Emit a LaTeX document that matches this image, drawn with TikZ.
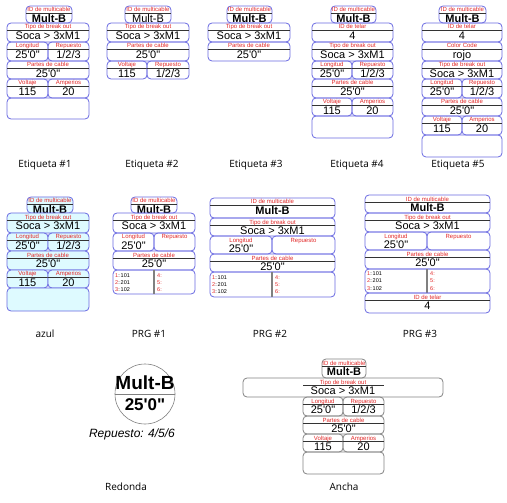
\documentclass[tikz,border=0pt]{standalone}
\usepackage{fontspec}
\setmainfont{Liberation Sans}
\newfontfamily\capfont{Open Sans}
\usepackage{tikz}

\definecolor{rowblue}{RGB}{105,105,225}
\definecolor{labred}{RGB}{225,40,40}
\definecolor{azulfill}{RGB}{222,250,255}
\definecolor{anchagray}{RGB}{130,130,130}

\tikzset{
  rowbox/.style={draw=rowblue, line width=0.8pt, rounded corners=4pt},
  labline/.style={draw=black!80, line width=0.6pt},
  lab/.style={text=labred, inner sep=0pt, anchor=base, font=\fontsize{6}{6}\selectfont},
  val/.style={inner sep=0pt, anchor=base, font=\fontsize{11}{11}\selectfont},
  captext/.style={inner sep=0pt, font=\capfont\fontsize{10}{10}\selectfont},
  lst/.style={inner sep=0pt, anchor=base west, font=\fontsize{5.5}{5.5}\selectfont},
  divline/.style={draw=gray, line width=1.5pt}
}

\newcommand{\lenval}{25\textquotesingle0\textquotedbl}

% one labelled cell: name, x1, y1, x2, y2, label, value
\newcommand{\cellrow}[7]{%
  \draw[rowbox] (#2,#3) rectangle (#4,#5);
  \draw[labline] (#2,{#3+7}) -- (#4,{#3+7});
  \node[lab] (#1-lab) at ({(#2+#4)/2},{#3+6}) {#6};
  \node[val] (#1-val) at ({(#2+#4)/2},{#3+16.5}) {#7};
}

\begin{document}
\begin{tikzpicture}[x=1pt, y=-1pt]

    \useasboundingbox (0,0) rectangle (507,503);

    % Etiqueta #1
    \cellrow{e1id}{26}{6}{72}{23}{ID de multicable}{\bfseries Mult-B}
    \cellrow{e1tipo}{7}{23}{89}{42}{Tipo de break out}{Soca > 3xM1}
    \cellrow{e1long}{7}{42}{48}{61}{Longitud}{\lenval}
    \cellrow{e1rep}{48}{42}{89}{61}{Repuesto}{1/2/3}
    \cellrow{e1partes}{7}{61}{89}{79}{Partes de cable}{\lenval}
    \cellrow{e1volt}{7}{79}{48}{98}{Voltaje}{115}
    \cellrow{e1amp}{48}{79}{89}{98}{Amperios}{20}
    \draw[rowbox] (7,98) rectangle (89,119);

    \node[captext] (e1cap) at (45,165) {Etiqueta \#1};


    % Etiqueta #2
    \cellrow{e2id}{125}{6}{171}{23}{ID de multicable}{Mult-B}
    \cellrow{e2tipo}{107}{23}{189}{42}{Tipo de break out}{Soca > 3xM1}
    \cellrow{e2partes}{107}{42}{189}{61}{Partes de cable}{\lenval}
    \cellrow{e2volt}{107}{61}{147}{79}{Voltaje}{115}
    \cellrow{e2rep}{147}{61}{189}{79}{Repuesto}{1/2/3}

    \node[captext] (e2cap) at (152,165) {Etiqueta \#2};


    % Etiqueta #3
    \cellrow{e3id}{227}{6}{272}{23}{ID de multicable}{\bfseries Mult-B}
    \cellrow{e3tipo}{208}{23}{290}{42}{Tipo de break out}{Soca > 3xM1}
    \cellrow{e3partes}{208}{42}{290}{61}{Partes de cable}{\lenval}

    \node[captext] (e3cap) at (256,165) {Etiqueta \#3};


    % Etiqueta #4
    \cellrow{e4id}{331}{6}{376}{23}{ID de multicable}{\bfseries Mult-B}
    \cellrow{e4telar}{312}{23}{393}{42}{ID de telar}{4}
    \cellrow{e4tipo}{312}{42}{393}{61}{Tipo de break out}{Soca > 3xM1}
    \cellrow{e4long}{312}{61}{352}{79}{Longitud}{\lenval}
    \cellrow{e4rep}{352}{61}{393}{79}{Repuesto}{1/2/3}
    \cellrow{e4partes}{312}{79}{393}{98}{Partes de cable}{\lenval}
    \cellrow{e4volt}{312}{98}{352}{116}{Voltaje}{115}
    \cellrow{e4amp}{352}{98}{393}{116}{Amperios}{20}
    \draw[rowbox] (312,116) rectangle (393,138);

    \node[captext] (e4cap) at (357,165) {Etiqueta \#4};


    % Etiqueta #5
    \cellrow{e5id}{439}{6}{486}{23}{ID de multicable}{\bfseries Mult-B}
    \cellrow{e5telar}{422}{23}{502}{42}{ID de telar}{4}
    \cellrow{e5color}{422}{42}{502}{61}{Color Code}{rojo}
    \cellrow{e5tipo}{422}{61}{502}{79}{Tipo de break out}{Soca > 3xM1}
    \cellrow{e5long}{422}{79}{462}{98}{Longitud}{\lenval}
    \cellrow{e5rep}{462}{79}{502}{98}{Repuesto}{1/2/3}
    \cellrow{e5partes}{422}{98}{502}{116}{Partes de cable}{\lenval}
    \cellrow{e5volt}{422}{116}{462}{135}{Voltaje}{115}
    \cellrow{e5amp}{462}{116}{502}{135}{Amperios}{20}
    \draw[rowbox] (422,135) rectangle (502,157);

    \node[captext] (e5cap) at (458,165) {Etiqueta \#5};


    % azul
    \begin{scope}[rowbox/.append style={fill=azulfill}]
      \cellrow{azid}{27}{197}{73}{213}{ID de multicable}{\bfseries Mult-B}
      \cellrow{aztipo}{7}{213}{89}{233}{Tipo de break out}{Soca > 3xM1}
      \cellrow{azlong}{7}{233}{48}{251}{Longitud}{\lenval}
      \cellrow{azrep}{48}{233}{89}{251}{Repuesto}{1/2/3}
      \cellrow{azpartes}{7}{251}{89}{270}{Partes de cable}{\lenval}
      \cellrow{azvolt}{7}{270}{48}{288}{Voltaje}{115}
      \cellrow{azamp}{48}{270}{89}{288}{Amperios}{20}
      \draw[rowbox] (7,288) rectangle (89,311);
    \end{scope}

    \node[captext] (azcap) at (45,334) {azul};


    % PRG #1
    \cellrow{p1id}{131}{197}{177}{213}{ID de multicable}{\bfseries Mult-B}
    \cellrow{p1tipo}{113}{213}{195}{233}{Tipo de break out}{Soca > 3xM1}
    \begin{scope}[labline/.style={draw=none}]
      \cellrow{p1long}{113}{233}{154}{251}{Longitud}{\lenval}
      \cellrow{p1rep}{154}{233}{195}{251}{Repuesto}{}
    \end{scope}
    \cellrow{p1partes}{113}{251}{195}{270}{Partes de cable}{\lenval}
    \draw[rowbox] (113,270) rectangle (195,294);
    \draw[divline] (154,270) -- (154,294);
    \node[lst] (p1a) at (115,277) {\textcolor{labred}{1}:\,101};
    \node[lst] (p1b) at (115,284) {\textcolor{labred}{2}:\,201};
    \node[lst] (p1c) at (115,291) {\textcolor{labred}{3}:\,102};
    \node[lst, text=labred] (p1d) at (157,277) {4:};
    \node[lst, text=labred] (p1e) at (157,284) {5:};
    \node[lst, text=labred] (p1f) at (157,291) {6:};

    \node[captext] (p1cap) at (149,334) {PRG \#1};


    % PRG #2
    \cellrow{p2id}{210}{198}{335}{218}{ID de multicable}{\bfseries Mult-B}
    \cellrow{p2tipo}{210}{218}{335}{236}{Tipo de break out}{Soca > 3xM1}
    \begin{scope}[labline/.style={draw=none}]
      \cellrow{p2long}{210}{236}{272}{254}{Longitud}{\lenval}
      \cellrow{p2rep}{272}{236}{335}{254}{Repuesto}{}
    \end{scope}
    \cellrow{p2partes}{210}{254}{335}{272}{Partes de cable}{\lenval}
    \draw[rowbox] (210,272) rectangle (335,297);
    \draw[divline] (272,272) -- (272,297);
    \node[lst] (p2a) at (212,279) {\textcolor{labred}{1}:\,101};
    \node[lst] (p2b) at (212,286) {\textcolor{labred}{2}:\,201};
    \node[lst] (p2c) at (212,293) {\textcolor{labred}{3}:\,102};
    \node[lst, text=labred] (p2d) at (275,279) {4:};
    \node[lst, text=labred] (p2e) at (275,286) {5:};
    \node[lst, text=labred] (p2f) at (275,293) {6:};

    \node[captext] (p2cap) at (270,334) {PRG \#2};


    % PRG #3
    \cellrow{p3id}{365}{195}{490}{213}{ID de multicable}{\bfseries Mult-B}
    \cellrow{p3tipo}{365}{213}{490}{232}{Tipo de break out}{Soca > 3xM1}
    \begin{scope}[labline/.style={draw=none}]
      \cellrow{p3long}{365}{232}{427}{250}{Longitud}{\lenval}
      \cellrow{p3rep}{427}{232}{490}{250}{Repuesto}{}
    \end{scope}
    \cellrow{p3partes}{365}{250}{490}{269}{Partes de cable}{\lenval}
    \draw[rowbox] (365,269) rectangle (490,293);
    \draw[divline] (427,269) -- (427,293);
    \node[lst] (p3a) at (367,276) {\textcolor{labred}{1}:\,101};
    \node[lst] (p3b) at (367,283) {\textcolor{labred}{2}:\,201};
    \node[lst] (p3c) at (367,290) {\textcolor{labred}{3}:\,102};
    \node[lst, text=labred] (p3d) at (430,276) {4:};
    \node[lst, text=labred] (p3e) at (430,283) {5:};
    \node[lst, text=labred] (p3f) at (430,290) {6:};
    \cellrow{p3telar}{365}{293}{490}{313}{ID de telar}{4}

    \node[captext] (p3cap) at (420,334) {PRG \#3};


    % Redonda
    \draw[gray, line width=0.6pt] (145,394) circle (30);
    \draw[gray, line width=0.6pt] (115,394) -- (175,394);
    \node[inner sep=0pt, anchor=base, font=\fontsize{19}{19}\selectfont\bfseries] (rdid) at (145,389) {Mult-B};
    \node[inner sep=0pt, anchor=base, font=\fontsize{17}{17}\selectfont\bfseries] (rdlen) at (145,410) {\lenval};
    \node[inner sep=0pt, anchor=base, font=\fontsize{12}{12}\selectfont\itshape] (rdrep) at (132,437) {Repuesto: 4/5/6};

    \node[captext] (rdcap) at (126,487) {Redonda};


    % Ancha
    \begin{scope}[rowbox/.append style={draw=anchagray}]
      \cellrow{anid}{322}{359}{366}{378}{ID de multicable}{\bfseries Mult-B}
      \draw[rowbox] (243,378) rectangle (443,397);
      \draw[labline] (303,385) -- (384,385);
      \node[lab] (antipo-lab) at (343,384) {Tipo de break out};
      \node[val] (antipo-val) at (343,394.5) {Soca > 3xM1};
      \cellrow{anlong}{303}{397}{343}{416}{Longitud}{\lenval}
      \cellrow{anrep}{343}{397}{384}{416}{Repuesto}{1/2/3}
      \cellrow{anpartes}{303}{416}{384}{434}{Partes de cable}{\lenval}
      \cellrow{anvolt}{303}{434}{343}{452}{Voltaje}{115}
      \cellrow{anamp}{343}{434}{384}{452}{Amperios}{20}
      \draw[rowbox] (303,452) rectangle (384,474);
    \end{scope}

    \node[captext] (ancap) at (344,487) {Ancha};

  \end{tikzpicture}
\end{document}
